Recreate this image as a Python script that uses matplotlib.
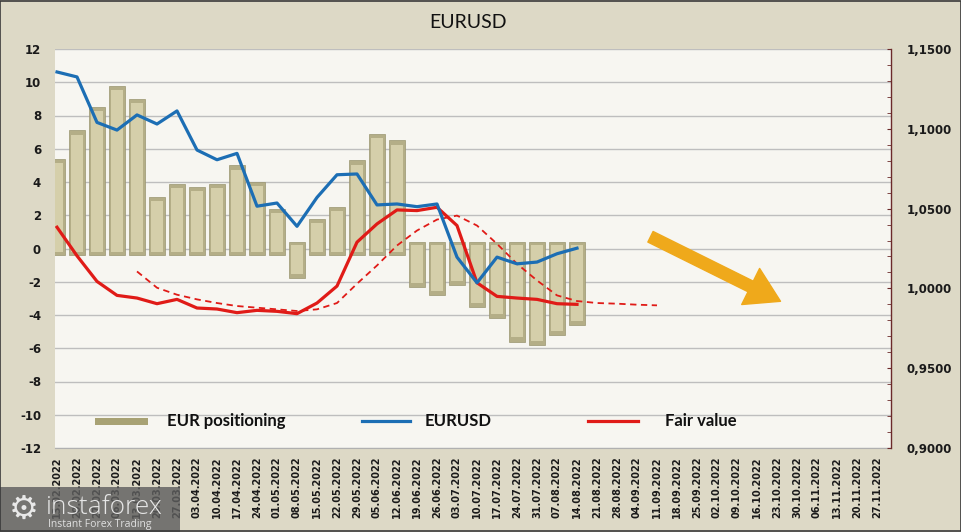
import numpy as np
import matplotlib
matplotlib.use("Agg")
import matplotlib.pyplot as plt
from matplotlib.patches import Rectangle, FancyArrowPatch, ArrowStyle
from matplotlib.lines import Line2D
from matplotlib.ticker import MultipleLocator, FuncFormatter

plt.rcParams["axes.unicode_minus"] = False

# ---------------- data ----------------
dates = ["13.02.2022", "20.02.2022", "27.02.2022", "06.03.2022", "13.03.2022", "20.03.2022",
         "27.03.2022", "03.04.2022", "10.04.2022", "17.04.2022", "24.04.2022", "01.05.2022",
         "08.05.2022", "15.05.2022", "22.05.2022", "29.05.2022", "05.06.2022", "12.06.2022",
         "19.06.2022", "26.06.2022", "03.07.2022", "10.07.2022", "17.07.2022", "24.07.2022",
         "31.07.2022", "07.08.2022", "14.08.2022", "21.08.2022", "28.08.2022", "04.09.2022",
         "11.09.2022", "18.09.2022", "25.09.2022", "02.10.2022", "09.10.2022", "16.10.2022",
         "23.10.2022", "30.10.2022", "06.11.2022", "13.11.2022", "20.11.2022", "27.11.2022"]

eur_positioning = [5.4, 7.1, 8.5, 9.8, 9.0, 3.1, 3.9, 3.7, 3.9, 5.0, 4.0, 2.4,
                   -1.8, 1.8, 2.5, 5.3, 6.9, 6.5, -2.3, -2.8, -2.2, -3.5, -4.2,
                   -5.6, -5.8, -5.2, -4.6]

eurusd = [1.1356, 1.1325, 1.1040, 1.0992, 1.1087, 1.1030, 1.1112, 1.0867, 1.0806,
          1.0846, 1.0515, 1.0535, 1.0389, 1.0570, 1.0712, 1.0717, 1.0523, 1.0529,
          1.0512, 1.0529, 1.0196, 1.0035, 1.0196, 1.0154, 1.0165, 1.0217, 1.0252]

fair_value = [1.28, -0.44, -1.98, -2.82, -2.98, -3.32, -3.06, -3.58, -3.64, -3.86,
              -3.72, -3.78, -3.92, -3.28, -2.26, 0.38, 1.48, 2.32, 2.28, 2.48, 1.38,
              -2.06, -2.88, -2.98, -3.06, -3.32, -3.36]

fair_value_trend = [None, None, None, None, -1.38, -2.36, -2.78, -3.06, -3.28, -3.46,
                    -3.56, -3.66, -3.76, -3.66, -3.28, -2.12, -1.02, 0.18, 1.08, 1.74,
                    1.98, 1.38, 0.28, -0.92, -1.92, -2.82, -3.16, -3.28, -3.32, -3.38,
                    -3.42]

# ---------------- style ----------------
FIG_BG = "#DDD9C6"
PLOT_BG = "#F7F6F1"
GRID = "#BEBEBE"
BLUE = "#1C6EB4"
RED = "#E01B17"
BAR_OUT = "#B4AE87"
BAR_IN = "#D5CFAA"
ARROW = "#EFA91B"
BEVEL = 0.4

W, H = 961, 532
fig = plt.figure(figsize=(W / 100, H / 100), dpi=100, facecolor=FIG_BG)

L, R, T, B = 55, 891, 49, 448
ax = fig.add_axes([L / W, 1 - B / H, (R - L) / W, (B - T) / H])
ax.set_facecolor(PLOT_BG)

x_all = np.arange(len(dates))
xb = np.arange(len(eur_positioning))
vals = np.array(eur_positioning)
sgn = np.sign(vals)
bottoms = -BEVEL * sgn
ax.bar(xb, vals - bottoms, bottom=bottoms, width=0.8, color=BAR_OUT,
       edgecolor="#9A9570", linewidth=0.5, zorder=2)
ax.bar(xb, (vals - bottoms) - 0.45 * sgn, bottom=bottoms + 0.2 * sgn,
       width=0.64, color=BAR_IN, linewidth=0, zorder=2.1)

ax.plot(np.arange(len(fair_value)), fair_value, color=RED, lw=2.3, zorder=4,
        solid_joinstyle="round")
trend = np.array([np.nan if v is None else v for v in fair_value_trend], dtype=float)
ax.plot(np.arange(len(trend)), trend, color=RED, lw=1.3, ls=(0, (3.5, 2.5)), zorder=4)

ax.set_xlim(-0.1, 41.7)
ax.set_ylim(-12, 12)
ax.yaxis.set_major_locator(MultipleLocator(2))
ax.grid(axis="y", color=GRID, lw=1, zorder=0)
ax.set_axisbelow(True)
ax.set_xticks(x_all)
ax.set_xticklabels(dates, rotation=90, fontsize=7, fontweight="bold", color="#1A1A1A",
                   family="DejaVu Sans")
ax.tick_params(axis="x", length=0, pad=6)
ax.tick_params(axis="y", length=0, pad=10, labelsize=8.5, labelcolor="#1A1A1A")
for lab in ax.get_yticklabels():
    lab.set_fontweight("bold")
for s in ["top", "left", "right"]:
    ax.spines[s].set_visible(False)
ax.spines["bottom"].set_color("#B0B0B0")

ax2 = ax.twinx()
ax2.plot(np.arange(len(eurusd)), eurusd, color=BLUE, lw=2.3, zorder=5,
         solid_joinstyle="round")
ax2.set_ylim(0.9, 1.15)
ax2.yaxis.set_major_locator(MultipleLocator(0.05))
ax2.yaxis.set_minor_locator(MultipleLocator(0.01))
ax2.yaxis.set_major_formatter(FuncFormatter(lambda v, p: f"{v:.4f}".replace(".", ",")))
ax2.tick_params(axis="y", which="both", direction="in", length=3, color="#6B2A2A",
                pad=11, labelsize=8.5, labelcolor="#1A1A1A")
for lab in ax2.get_yticklabels():
    lab.set_fontweight("bold")
for s in ["top", "left", "bottom"]:
    ax2.spines[s].set_visible(False)
ax2.spines["right"].set_color("#6B2A2A")
ax2.spines["right"].set_linewidth(1.0)

# downward arrow
arrow = FancyArrowPatch((29.55, 0.78), (36.3, -3.25),
                        arrowstyle=ArrowStyle.Simple(head_length=24, head_width=29, tail_width=8.5),
                        mutation_scale=1, color=ARROW, zorder=6, capstyle="round",
                        joinstyle="round")
ax.add_patch(arrow)

# title
fig.text(468 / W, 1 - 23 / H, "EURUSD", ha="center", va="center", fontsize=14,
         family="Lato", color="#111111")

# legend (manual)
ly = 1 - 421 / H
fig.patches.append(Rectangle((95 / W, 1 - 425 / H), 53 / W, 7 / H, transform=fig.transFigure,
                             facecolor="#A8A274", edgecolor="none", zorder=10))
fig.text(167 / W, ly, "EUR positioning", fontsize=12, fontweight="bold", family="Lato",
         va="center", ha="left", color="#111111")
fig.lines.append(Line2D([362 / W, 410 / W], [ly, ly], transform=fig.transFigure,
                        color=BLUE, lw=2.3))
fig.text(425 / W, ly, "EURUSD", fontsize=12, fontweight="bold", family="Lato",
         va="center", ha="left", color="#111111")
fig.lines.append(Line2D([588 / W, 638 / W], [ly, ly], transform=fig.transFigure,
                        color=RED, lw=2.3))
fig.text(665 / W, ly, "Fair value", fontsize=12, fontweight="bold", family="Lato",
         va="center", ha="left", color="#111111")

# watermark
fig.patches.append(Rectangle((0, 0), 180 / W, 45 / H, transform=fig.transFigure,
                             facecolor="#5E5E5E", alpha=0.82, edgecolor="none", zorder=20))
fig.text(24 / W, 1 - 509 / H, "\u2699", fontsize=24, color="#E8E8E8", ha="center",
         va="center", family="DejaVu Sans", zorder=21)
fig.text(46 / W, 1 - 507 / H, "instaforex", fontsize=19, color="#E6E6E6", ha="left",
         va="center", family="Open Sans", fontweight="light", zorder=21)
fig.text(48 / W, 1 - 524 / H, "Instant Forex Trading", fontsize=7.5, color="#E0E0E0",
         ha="left", va="center", family="Open Sans", zorder=21)

# outer border
fig.patches.append(Rectangle((0.0005, 0.001), 0.999, 0.998, transform=fig.transFigure,
                             facecolor="none", edgecolor="#3A3A3A", lw=1.2, zorder=30))

fig.savefig("out.png", dpi=100, facecolor=FIG_BG)
